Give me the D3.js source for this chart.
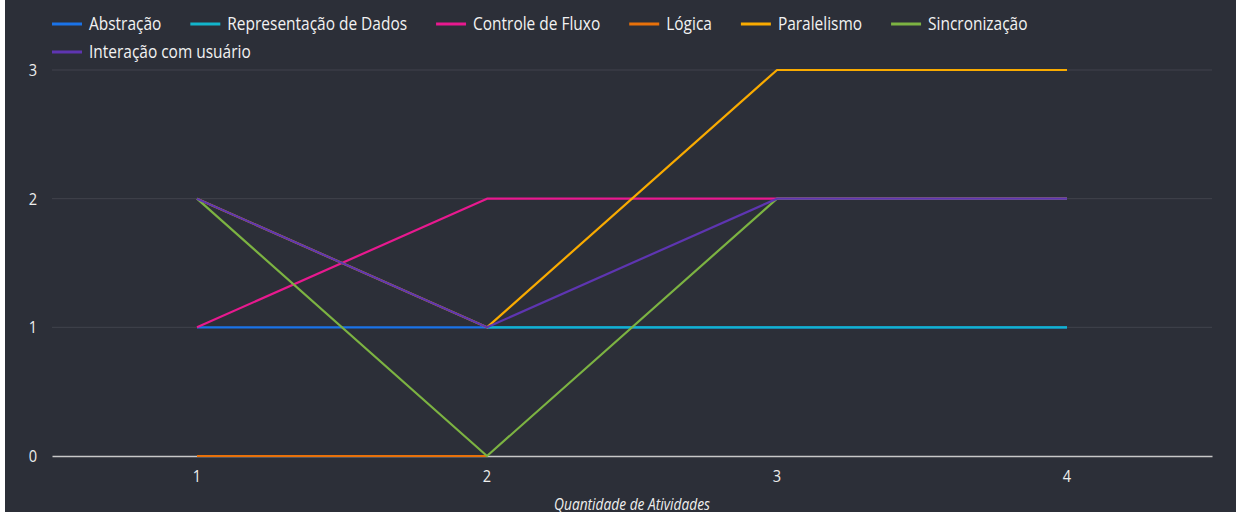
<!DOCTYPE html>
<html>
<head>
<meta charset="utf-8">
<script src="https://cdn.jsdelivr.net/npm/d3@7"></script>
<style>
  html, body { margin: 0; padding: 0; background: #ffffff; }
  svg { display: block; font-family: "Open Sans", "Noto Sans", sans-serif; }
</style>
</head>
<body>
<div id="chart"></div>
<script>
// dados
const categories = [1, 2, 3, 4];
const seriesNames = ['Abstração', 'Representação de Dados', 'Controle de Fluxo', 'Lógica', 'Paralelismo', 'Sincronização', 'Interação com usuário'];
const abstracao = [1, 1, 1, 1];
const representacao = [null, 1, 1, 1];
const controle = [1, 2, 2, 2];
const logica = [0, 0, null, null];
const paralelismo = [2, 1, 3, 3];
const sincronizacao = [2, 0, 2, 2];
const interacao = [2, 1, 2, 2];
const yTicks = [0, 1, 2, 3];
const xTitle = 'Quantidade de Atividades';

const colors = ['#1a73e8', '#12b5cb', '#e8198f', '#e8710a', '#f9ab00', '#7cb342', '#5e35b1'];
const values = [abstracao, representacao, controle, logica, paralelismo, sincronizacao, interacao];

const W = 1236, H = 515;
const m = { left: 52, right: 24, top: 70, bottom: 59 };
const squeeze = 0.86; // imita a fonte condensada

const svg = d3.select('#chart').append('svg').attr('width', W).attr('height', H);
svg.append('rect').attr('x', 5).attr('y', 0).attr('width', W - 5).attr('height', 512).attr('fill', '#2c2f38');

const x = d3.scaleLinear().domain([0.5, 4.5]).range([m.left, W - m.right]);
const y = d3.scaleLinear().domain([0, 3]).range([H - m.bottom, m.top]);

// texto "condensado": escala horizontal em volta do ponto de âncora
function condensed(parent, tx, ty, str, size, opts = {}) {
  const g = parent.append('g').attr('transform', `translate(${tx},${ty}) scale(${squeeze},1)`);
  const t = g.append('text')
    .attr('dy', '0.35em')
    .attr('font-size', size)
    .attr('fill', opts.fill || '#eeeeee')
    .attr('text-anchor', opts.anchor || 'start')
    .attr('font-style', opts.italic ? 'italic' : null)
    .text(str);
  return t.node().getComputedTextLength() * squeeze;
}

// grade
svg.append('g').selectAll('line')
  .data(yTicks.filter(t => t > 0)).join('line')
  .attr('x1', x.range()[0]).attr('x2', x.range()[1])
  .attr('y1', d => y(d)).attr('y2', d => y(d))
  .attr('stroke', '#40434c').attr('stroke-width', 1);

// eixo x (linha de base)
const xAxis = svg.append('g').attr('transform', `translate(0,${y(0)})`)
  .call(d3.axisBottom(x).tickValues(categories).tickSize(0).tickFormat(''));
xAxis.select('.domain').attr('stroke', '#c8c8c8').attr('stroke-width', 1.5);

// rótulos dos eixos
const labels = svg.append('g');
yTicks.forEach(t => condensed(labels, 33, y(t), d3.format('d')(t), 17, { anchor: 'middle' }));
categories.forEach(c => condensed(labels, x(c), y(0) + 20, d3.format('d')(c), 17, { anchor: 'middle' }));
condensed(labels, (x.range()[0] + x.range()[1]) / 2, 504, xTitle, 16, { anchor: 'middle', italic: true });

// linhas
const line = d3.line()
  .defined(d => d.v !== null)
  .x(d => x(d.c)).y(d => y(d.v));

values.forEach((vals, i) => {
  svg.append('path')
    .datum(vals.map((v, j) => ({ c: categories[j], v })))
    .attr('d', line)
    .attr('fill', 'none')
    .attr('stroke', colors[i])
    .attr('stroke-width', 2.2)
    .attr('stroke-linejoin', 'round');
});

// legenda
const legend = svg.append('g');
const rows = [[0, 1, 2, 3, 4, 5], [6]];
rows.forEach((row, r) => {
  let lx = 52;
  const ly = 24 + r * 28;
  row.forEach(i => {
    legend.append('line')
      .attr('x1', lx).attr('x2', lx + 30).attr('y1', ly).attr('y2', ly)
      .attr('stroke', colors[i]).attr('stroke-width', 3);
    const w = condensed(legend, lx + 37, ly, seriesNames[i], 18, { fill: '#f2f2f2' });
    lx += 37 + w + 29;
  });
});
</script>
</body>
</html>
